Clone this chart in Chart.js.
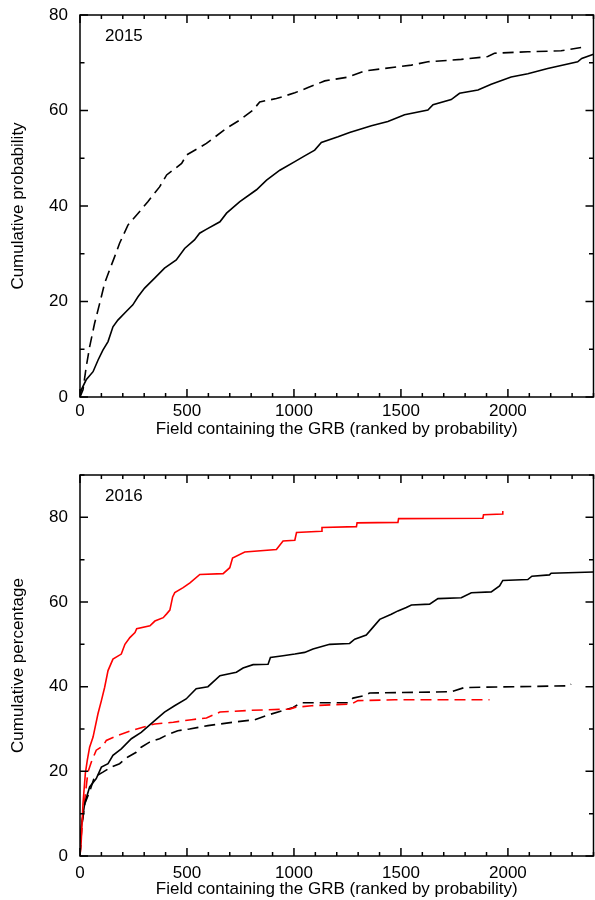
<!DOCTYPE html>
<html><head><meta charset="utf-8">
<script src="https://cdn.jsdelivr.net/npm/chart.js@4.4.0/dist/chart.umd.min.js"></script>
<style>
html,body{margin:0;padding:0;background:#fff;overflow:hidden;}
.box{position:absolute;left:0;width:595px;height:450px;}
</style></head><body>
<div class="box" style="top:0"><canvas id="c1"></canvas></div>
<div class="box" style="top:450px"><canvas id="c2"></canvas></div>
<script>
// ---- 2015 panel ----
const top2015SolidX = [0, 6, 29, 61, 84, 107, 131, 154, 177, 216, 247, 271, 302, 349, 395, 450, 489, 535, 559, 590, 654, 685, 747, 825, 872, 934, 1004, 1050, 1097, 1128, 1206, 1260, 1362, 1439, 1517, 1626, 1650, 1735, 1774, 1860, 1922, 2015, 2093, 2186, 2326, 2345, 2400];
const top2015SolidY = [0, 1.5, 3.6, 5.3, 7.7, 9.8, 11.6, 14.7, 16.1, 17.9, 19.3, 21, 22.8, 24.9, 27, 28.7, 31.1, 32.9, 34.3, 35.1, 36.7, 38.5, 40.9, 43.4, 45.4, 47.5, 49.3, 50.5, 51.7, 53.3, 54.5, 55.4, 56.8, 57.7, 59.1, 60.1, 61.2, 62.3, 63.6, 64.3, 65.5, 67, 67.7, 68.8, 70.2, 70.9, 71.8];
const top2015DashX = [0, 14, 29, 45, 68, 92, 115, 138, 162, 185, 224, 278, 317, 372, 405, 475, 498, 591, 685, 747, 809, 840, 918, 1004, 1066, 1144, 1253, 1331, 1424, 1549, 1626, 1782, 1906, 1937, 2093, 2249, 2342];
const top2015DashY = [0, 1.5, 6.3, 10.5, 15.4, 19.6, 23.8, 26.6, 29.4, 32.2, 36, 38.8, 40.9, 44, 46.5, 48.9, 50.7, 53.1, 56.3, 58, 60.1, 61.8, 62.5, 63.7, 64.8, 66.2, 67, 68.3, 68.8, 69.5, 70.2, 70.7, 71.3, 72, 72.3, 72.5, 73.2];

// ---- 2016 panel ----
const redSolidX = [0, 6, 14, 25, 34, 45, 61, 84, 100, 115, 131, 154, 193, 210, 233, 257, 265, 327, 350, 389, 405, 420, 433, 443, 482, 514, 560, 669, 700, 713, 770, 918, 949, 1004, 1012, 1128, 1131, 1292, 1295, 1486, 1489, 1883, 1886, 1976, 1976];
const redSolidY = [0, 3.8, 12.4, 19.5, 22.6, 25.7, 28.1, 33.6, 36.7, 39.8, 43.8, 46.5, 47.7, 50, 51.6, 52.8, 53.7, 54.4, 55.5, 56.3, 57.2, 58.1, 61.2, 62.2, 63.4, 64.5, 66.5, 66.7, 68.1, 70.4, 71.8, 72.4, 74.4, 74.6, 76.4, 76.7, 77.6, 77.8, 78.7, 78.8, 79.7, 79.8, 80.6, 80.8, 81.5];
const blackSolidX = [0, 6, 22, 45, 76, 100, 131, 154, 193, 240, 286, 349, 395, 442, 496, 543, 598, 654, 731, 762, 809, 879, 890, 949, 1004, 1050, 1089, 1167, 1260, 1284, 1338, 1369, 1401, 1455, 1486, 1525, 1549, 1634, 1673, 1782, 1829, 1922, 1961, 1976, 2093, 2112, 2194, 2202, 2400];
const blackSolidY = [0, 6.9, 12.4, 16.3, 18.3, 21, 21.8, 23.8, 25.3, 27.7, 29.2, 32, 34, 35.5, 37.1, 39.5, 40, 42.6, 43.4, 44.4, 45.2, 45.3, 46.9, 47.3, 47.7, 48.1, 48.9, 50, 50.2, 51.2, 52.2, 54, 55.9, 57.1, 57.9, 58.7, 59.3, 59.5, 60.8, 61, 62.2, 62.4, 63.8, 65.1, 65.3, 66.1, 66.4, 66.8, 67.1];
const redDashX = [0, 10, 37, 53, 76, 107, 123, 177, 240, 294, 349, 436, 521, 591, 654, 794, 980, 1004, 1082, 1268, 1299, 1471, 1914];
const redDashY = [0, 8, 19.8, 22.2, 25, 26, 27.3, 28.5, 29.6, 30.4, 31.2, 31.6, 32.2, 32.6, 34, 34.4, 34.7, 35.1, 35.5, 35.9, 36.7, 36.9, 36.9];
const blackDashX = [0, 8, 23, 47, 68, 107, 146, 185, 224, 263, 286, 325, 372, 403, 457, 512, 598, 716, 817, 872, 996, 1035, 1253, 1276, 1331, 1354, 1735, 1797, 2288, 2295];
const blackDashY = [0, 6.9, 12.4, 15.5, 18.7, 19.8, 21, 21.8, 23.4, 24.5, 25.7, 26.9, 27.7, 28.5, 29.6, 30, 30.8, 31.6, 32.2, 33.2, 35.1, 36.2, 36.2, 37.3, 37.9, 38.5, 38.8, 39.8, 40.2, 40.6];

const xTickLabels = [0, 500, 1000, 1500, 2000];
const yTickLabels = [0, 20, 40, 60, 80];
const xTitle = 'Field containing the GRB (ranked by probability)';

const FAMILY = "'Liberation Sans', Arial, Helvetica, sans-serif";
function pts(xs, ys){ return xs.map((x,i)=>({x:x, y:ys[i]})); }
function ds(xs, ys, color, dashed){
  return {data: pts(xs, ys), borderColor: color, borderWidth: 1.6, showLine: true,
          pointRadius: 0, pointHoverRadius: 0, fill: false, tension: 0, borderDash: dashed ? [11,6] : []};
}

const framePlugin = {
  id: 'frame',
  afterDatasetsDraw(chart, args, opts){
    const {ctx, chartArea: a, scales: {x, y}} = chart;
    ctx.save();
    ctx.strokeStyle = '#000'; ctx.lineWidth = 1.5; ctx.setLineDash([]);
    ctx.strokeRect(a.left, a.top, a.right - a.left, a.bottom - a.top);
    ctx.beginPath();
    x.ticks.forEach(t => {
      const px = x.getPixelForValue(t.value);
      const L = xTickLabels.includes(t.value) ? 8 : 4;
      ctx.moveTo(px, a.bottom); ctx.lineTo(px, a.bottom - L);
      ctx.moveTo(px, a.top); ctx.lineTo(px, a.top + L);
    });
    y.ticks.forEach(t => {
      const py = y.getPixelForValue(t.value);
      const L = yTickLabels.includes(t.value) ? 8 : 4.5;
      ctx.moveTo(a.left, py); ctx.lineTo(a.left + L, py);
      ctx.moveTo(a.right, py); ctx.lineTo(a.right - L, py);
    });
    ctx.stroke();
    ctx.fillStyle = '#000';
    ctx.font = '17px ' + FAMILY;
    ctx.textBaseline = 'middle'; ctx.textAlign = 'left';
    ctx.fillText(opts.label, a.left + 25, a.top + 21);
    ctx.restore();
  }
};

function make(id, datasets, ymax, label, yTitle, xH, padTop, tickPad, titlePad){
  return new Chart(document.getElementById(id), {
    type: 'scatter',
    data: {datasets},
    plugins: [framePlugin],
    options: {
      responsive: true, maintainAspectRatio: false, animation: false,
      events: [],
      layout: {padding: {top: padTop, right: 1.5, left: 0, bottom: 0}},
      plugins: {legend: {display: false}, tooltip: {enabled: false}, frame: {label}},
      scales: {
        x: {
          type: 'linear', min: 0, max: 2400,
          grid: {display: false, drawTicks: true, tickLength: tickPad},
          border: {display: false},
          ticks: {stepSize: 100, autoSkip: false, maxRotation: 0, padding: 0, color: '#000',
                  font: {family: FAMILY, size: 17},
                  callback: v => xTickLabels.includes(v) ? String(v) : ''},
          title: {display: true, text: xTitle, color: '#000', font: {family: FAMILY, size: 17},
                  padding: {top: 0, bottom: titlePad}},
          afterFit: s => { s.height = xH; }
        },
        y: {
          type: 'linear', min: 0, max: ymax,
          grid: {display: false, drawTicks: true, tickLength: 12},
          border: {display: false},
          ticks: {stepSize: 10, autoSkip: false, padding: 0, color: '#000',
                  font: {family: FAMILY, size: 17},
                  callback: v => yTickLabels.includes(v) ? String(v) : ''},
          title: {display: true, text: yTitle, color: '#000', font: {family: FAMILY, size: 17},
                  padding: {top: 8, bottom: 0}},
          afterFit: s => { s.width = 80; }
        }
      }
    }
  });
}

make('c1', [
  ds(top2015SolidX, top2015SolidY, '#000', false),
  ds(top2015DashX, top2015DashY, '#000', true)
], 80, '2015', 'Cumulative probability', 53, 15, 4, 10);

make('c2', [
  ds(redSolidX, redSolidY, '#ff0000', false),
  ds(blackSolidX, blackSolidY, '#000', false),
  ds(redDashX, redDashY, '#ff0000', true),
  ds(blackDashX, blackDashY, '#000', true)
], 90, '2016', 'Cumulative percentage', 44, 25, 7, 0);
</script>
</body></html>
